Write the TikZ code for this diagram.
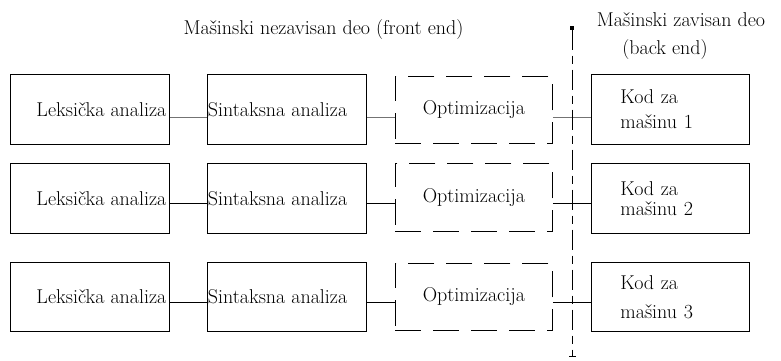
\documentclass[tikz,border=0pt]{standalone}
\usetikzlibrary{arrows.meta}
\begin{document}
\begin{tikzpicture}[x=1pt,y=-1pt,
  font=\fontsize{20}{24}\selectfont,
  box/.style={draw, line width=0.8pt, inner sep=0pt, minimum width=159pt, minimum height=70pt, anchor=north west},
  dbox/.style={draw, line width=0.8pt, dash pattern=on 26pt off 12pt, inner sep=0pt, minimum width=157pt, minimum height=67pt, anchor=north west},
  kbox/.style={draw, line width=0.8pt, inner sep=0pt, minimum width=158pt, minimum height=70pt, text width=158pt, align=left, anchor=north west},
  conn/.style={line width=0.8pt},
  conn1/.style={line width=0.8pt, draw=black!55},
  sep/.style={line width=0.8pt, dash pattern=on 20pt off 6pt on 8pt off 6pt, {Square[length=4pt,width=4pt]}-{Bar[width=7pt,line width=0.8pt]}}]
\useasboundingbox (0,0) rectangle (781,360);
\newcommand{\lextxt}{\makebox[159pt][r]{Leksička analiza\hspace*{3pt}}}
\newcommand{\sintxt}{\makebox[159pt][l]{\hspace*{0.5pt}Sintaksna analiza}}
% titles
\node (t1) at (323.5,30) {Mašinski nezavisan deo (front end)};
\node (t2) at (681,20) {Mašinski zavisan deo};
\node (t3) at (665,50) {(back end)};
% row 1
\node[box]  (lex1) at (10,74)  {\lextxt};
\node[box]  (sin1) at (207,74) {\sintxt};
\node[dbox] (opt1) at (395,76) {Optimizacija};
\node[kbox] (kod1) at (591,74) {\hspace*{29pt}Kod za\\[1pt]\hspace*{29pt}mašinu 1};
% row 2
\node[box]  (lex2) at (10,163)  {\lextxt};
\node[box]  (sin2) at (207,163) {\sintxt};
\node[dbox, minimum height=68pt] (opt2) at (395,163) {Optimizacija};
\node[kbox] (kod2) at (591,163) {\hspace*{29pt}Kod za\\[-4pt]\hspace*{29pt}mašinu 2};
% row 3
\node[box, minimum height=69pt]  (lex3) at (10,262)  {\lextxt};
\node[box, minimum height=69pt]  (sin3) at (207,262) {\sintxt};
\node[dbox] (opt3) at (395,263) {Optimizacija};
\node[kbox, minimum height=69pt] (kod3) at (591,262) {\hspace*{29pt}Kod za\\[5pt]\hspace*{29pt}mašinu 3};
% connectors
\draw[conn1] ([yshift=-8pt]lex1.east) -- ([yshift=-8pt]lex1.east -| sin1.west);
\draw[conn1] ([yshift=-8pt]lex1.east -| sin1.east) -- ([yshift=-8pt]lex1.east -| opt1.west);
\draw[conn1] ([yshift=-8pt]lex1.east -| opt1.east) -- ([yshift=-8pt]lex1.east -| kod1.west);
\draw[conn] ([yshift=-5pt]lex2.east) -- ([yshift=-5pt]lex2.east -| sin2.west);
\draw[conn] ([yshift=-5pt]lex2.east -| sin2.east) -- ([yshift=-5pt]lex2.east -| opt2.west);
\draw[conn] ([yshift=-5pt]lex2.east -| opt2.east) -- ([yshift=-5pt]lex2.east -| kod2.west);
\draw[conn] ([yshift=-5.5pt]lex3.east) -- ([yshift=-5.5pt]lex3.east -| sin3.west);
\draw[conn] ([yshift=-5.5pt]lex3.east -| sin3.east) -- ([yshift=-5.5pt]lex3.east -| opt3.west);
\draw[conn] ([yshift=-5.5pt]lex3.east -| opt3.east) -- ([yshift=-5.5pt]lex3.east -| kod3.west);
% separator
\coordinate (vtop) at (572,26);
\coordinate (vbot) at (572,357);
\draw[sep] (vtop) -- (vbot);
\end{tikzpicture}
\end{document}
